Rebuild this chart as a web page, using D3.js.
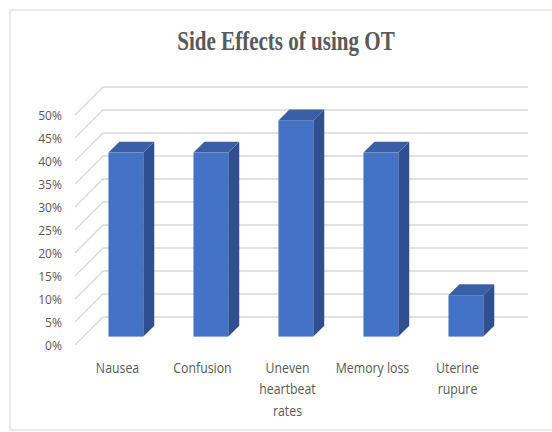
<!DOCTYPE html>
<html>
<head>
<meta charset="utf-8">
<script src="https://cdn.jsdelivr.net/npm/d3@7"></script>
<style>
  html, body { margin: 0; padding: 0; background: #ffffff; }
  svg { display: block; }
</style>
</head>
<body>
<svg id="chart" width="552" height="432"></svg>
<script>
// Side effects and share of respondents reporting each
const categories = ["Nausea", "Confusion", "Uneven heartbeat rates", "Memory loss", "Uterine rupure"];
const values = [0.40, 0.40, 0.47, 0.40, 0.09];
const tickValues = [0, 0.05, 0.10, 0.15, 0.20, 0.25, 0.30, 0.35, 0.40, 0.45, 0.50];
const title = "Side Effects of using OT";

const svg = d3.select("#chart");

// Oblique 3D layout: front plane plus a receding depth offset
const depth = 28;              // full depth offset (x right, y up)
const barZ0 = 0.30, barZ1 = 0.69;
const front = { left: 75, right: 500, bottom: 345, top: 115 };

const x = d3.scaleBand().domain(categories).range([front.left, front.right]).padding(0);
const y = d3.scaleLinear().domain([0, 0.5]).range([front.bottom, front.top]);
const barFrac = 0.41;

const gridColor = "#d9d9d9";
const textColor = "#595959";

// Chart area frame
svg.append("rect")
  .attr("x", 10).attr("y", 10).attr("width", 560).attr("height", 420)
  .attr("fill", "#ffffff").attr("stroke", "#e3e3e3").attr("stroke-width", 1.5);

// Title
svg.append("text")
  .attr("transform", "translate(286,50) scale(0.78,1)")
  .attr("text-anchor", "middle")
  .attr("font-family", "'Liberation Serif', 'Times New Roman', serif")
  .attr("font-weight", "bold")
  .attr("font-size", 27)
  .attr("fill", textColor)
  .text(title);

// Back wall gridlines with their receding side-wall segments
const grid = svg.append("g").attr("stroke", gridColor).attr("stroke-width", 1.3).attr("fill", "none");
tickValues.forEach(t => {
  const yf = y(t);
  grid.append("path")
    .attr("d", `M${front.left},${yf} L${front.left + depth},${yf - depth} L${front.right + depth},${yf - depth}`);
});

// Value axis labels
const axis = d3.axisLeft(y)
  .tickValues(tickValues)
  .tickFormat(d3.format(".0%"))
  .tickSize(0)
  .tickPadding(14);
const axisG = svg.append("g")
  .attr("transform", `translate(${front.left},0)`)
  .call(axis);
axisG.select(".domain").remove();
axisG.selectAll("text")
  .attr("font-family", "'Open Sans', sans-serif")
  .attr("font-size", 13)
  .attr("fill", textColor)
  .attr("dy", "0.38em")
  .attr("transform", "scale(0.93,1)");

// 3D bars
const bw = x.bandwidth() * barFrac;
const dd = (barZ1 - barZ0) * depth;
const bars = svg.append("g");
categories.forEach((c, i) => {
  const x0 = x(c) + (x.bandwidth() - bw) / 2 + barZ0 * depth;
  const x1 = x0 + bw;
  const top = y(values[i]) - barZ0 * depth;
  const bottom = y(0) - barZ0 * depth;
  const g = bars.append("g");
  g.append("rect")
    .attr("x", x0).attr("y", top).attr("width", bw).attr("height", bottom - top)
    .attr("fill", "#4472c4");
  g.append("path")
    .attr("d", `M${x1},${top} L${x1 + dd},${top - dd} L${x1 + dd},${bottom - dd} L${x1},${bottom} Z`)
    .attr("fill", "#2f4f8f");
  g.append("path")
    .attr("d", `M${x0},${top} L${x0 + dd},${top - dd} L${x1 + dd},${top - dd} L${x1},${top} Z`)
    .attr("fill", "#3a5fa6");
});

// Category labels, wrapped to the slot width
const catScale = 0.88;
const maxW = 80;
const labels = svg.append("g")
  .attr("font-family", "'Open Sans', sans-serif")
  .attr("font-size", 14)
  .attr("fill", textColor);
categories.forEach(c => {
  const cx = x(c) + x.bandwidth() / 2;
  const g = labels.append("g").attr("transform", `translate(${cx},373) scale(${catScale},1)`);
  const words = c.split(" ");
  const lines = [];
  let line = [];
  const probe = g.append("text").attr("text-anchor", "middle");
  words.forEach(w => {
    const trial = line.concat([w]).join(" ");
    probe.text(trial);
    if (line.length && probe.node().getComputedTextLength() * catScale > maxW) {
      lines.push(line.join(" "));
      line = [w];
    } else {
      line.push(w);
    }
  });
  lines.push(line.join(" "));
  probe.remove();
  lines.forEach((l, k) => {
    g.append("text")
      .attr("text-anchor", "middle")
      .attr("y", k * 21.5)
      .text(l);
  });
});
</script>
</body>
</html>
